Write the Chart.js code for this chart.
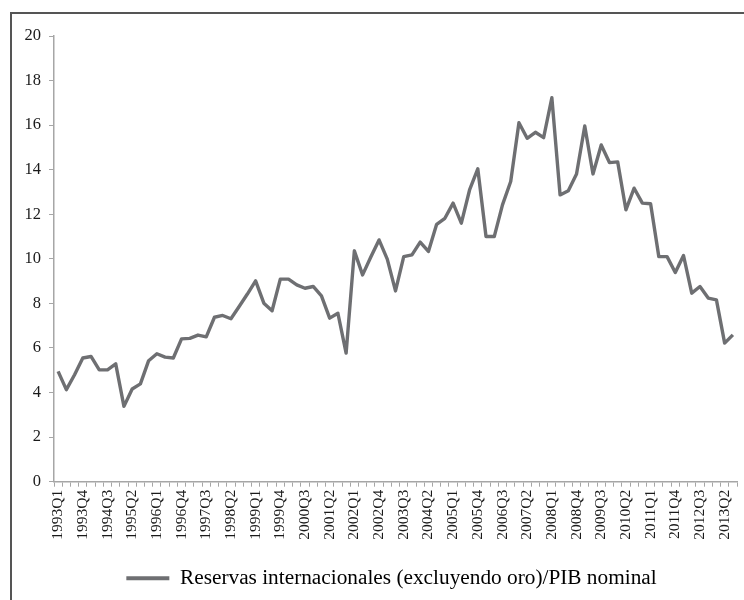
<!DOCTYPE html>
<html>
<head>
<meta charset="utf-8">
<script src="https://cdn.jsdelivr.net/npm/chart.js@4.4.0/dist/chart.umd.min.js"></script>
<style>
  html, body { margin: 0; padding: 0; background: #ffffff; }
  #frame {
    position: absolute; left: 10px; top: 12px; width: 800px; height: 700px;
    border-left: 2px solid #555555; border-top: 2px solid #555555;
  }
  #chart { position: absolute; left: 0; top: 0; }
</style>
</head>
<body>
<div id="frame"></div>
<canvas id="chart" width="744" height="600"></canvas>
<script>
// Trimestres 1993Q1 .. 2013Q3
const quarters = [];
for (let y = 1993; y <= 2013; y++) {
  for (let q = 1; q <= 4; q++) {
    if (y === 2013 && q > 3) break;
    quarters.push(y + 'Q' + q);
  }
}

// Reservas internacionales (excluyendo oro) / PIB nominal
const reservas = [
  4.95, 4.13, 4.80, 5.55, 5.62, 5.02, 5.02, 5.29, 3.38, 4.16,
  4.39, 5.43, 5.74, 5.59, 5.55, 6.41, 6.43, 6.58, 6.50, 7.38,
  7.46, 7.31, 7.86, 8.42, 9.01, 8.01, 7.67, 9.09, 9.09, 8.83,
  8.68, 8.76, 8.34, 7.34, 7.56, 5.77, 10.36, 9.28, 10.08, 10.85,
  9.99, 8.56, 10.10, 10.18, 10.75, 10.33, 11.55, 11.82, 12.50, 11.60,
  13.09, 14.04, 11.00, 11.00, 12.42, 13.47, 16.11, 15.41, 15.68, 15.44,
  17.23, 12.87, 13.06, 13.81, 15.96, 13.81, 15.11, 14.32, 14.35, 12.20,
  13.17, 12.50, 12.47, 10.10, 10.10, 9.39, 10.15, 8.46, 8.76, 8.24,
  8.16, 6.22, 6.59
];

const serieNombre = 'Reservas internacionales (excluyendo oro)/PIB nominal';
const yMin = 0, yMax = 20, yStep = 2;

const serif = "'Liberation Serif', 'Times New Roman', serif";
const axisGray = '#a6a6a6';
const lineGray = '#6e6f72';

// mover la leyenda un poco a la derecha (como en el original)
const legendShift = {
  id: 'legendShift',
  afterLayout(chart) {
    chart.legend.left += 14;
    chart.legend.right += 14;
  }
};

const ctx = document.getElementById('chart').getContext('2d');
new Chart(ctx, {
  type: 'line',
  data: {
    labels: quarters,
    datasets: [{
      label: serieNombre,
      data: reservas,
      borderColor: lineGray,
      backgroundColor: lineGray,
      borderWidth: 3.4,
      pointRadius: 0,
      tension: 0,
      borderJoinStyle: 'round',
      fill: false
    }]
  },
  plugins: [legendShift],
  options: {
    responsive: false,
    animation: false,
    layout: { padding: { left: 18, top: 36, right: 7, bottom: 1 } },
    plugins: {
      tooltip: { enabled: false },
      legend: {
        position: 'bottom',
        labels: {
          boxWidth: 43,
          boxHeight: 4,
          padding: 10,
          color: '#1a1a1a',
          font: { family: serif, size: 21.3 },
          generateLabels: (chart) => [{
            text: serieNombre,
            fillStyle: lineGray,
            strokeStyle: lineGray,
            lineWidth: 0,
            datasetIndex: 0
          }]
        }
      }
    },
    scales: {
      x: {
        type: 'category',
        offset: true,
        afterFit: (scale) => {
          scale.height = 76;
          scale.paddingLeft = 0;
          scale.paddingRight = 0;
        },
        border: { color: axisGray, width: 1.5 },
        grid: {
          offset: true,
          drawOnChartArea: false,
          drawTicks: true,
          tickLength: 5,
          color: axisGray
        },
        ticks: {
          autoSkip: false,
          maxRotation: 90,
          minRotation: 90,
          padding: 3,
          color: '#1a1a1a',
          font: { family: serif, size: 15.5 },
          callback: function (value, index) {
            return index % 3 === 0 ? this.getLabelForValue(value) : '';
          }
        }
      },
      y: {
        min: yMin,
        max: yMax,
        afterFit: (scale) => { scale.width = 36; },
        border: { color: axisGray, width: 1.5 },
        grid: {
          drawOnChartArea: false,
          drawTicks: true,
          tickLength: 5,
          color: axisGray
        },
        ticks: {
          stepSize: yStep,
          padding: 8,
          color: '#1a1a1a',
          font: { family: serif, size: 16.5 }
        }
      }
    }
  }
});
</script>
</body>
</html>
